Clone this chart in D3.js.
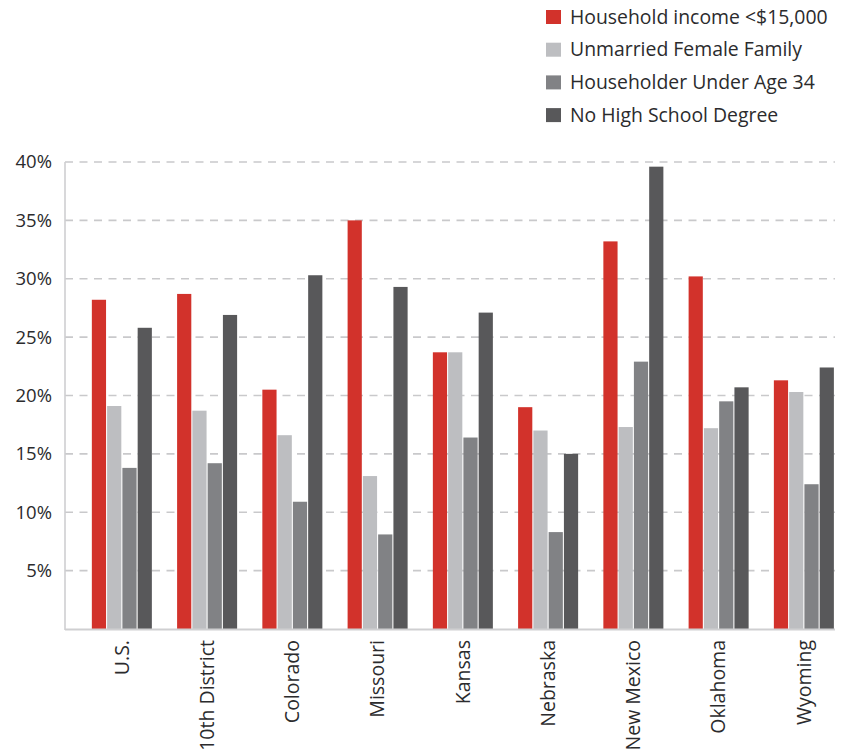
<!DOCTYPE html>
<html>
<head>
<meta charset="utf-8">
<script src="https://cdn.jsdelivr.net/npm/d3@7"></script>
<style>
  html, body { margin: 0; padding: 0; background: #fff; }
  svg text { font-family: "Open Sans", "Noto Sans", sans-serif; fill: #2b2b2d; }
</style>
</head>
<body>
<svg id="chart" width="845" height="750"></svg>
<script>
// Regions along the horizontal axis
const categories = ["U.S.", "10th District", "Colorado", "Missouri", "Kansas",
                    "Nebraska", "New Mexico", "Oklahoma", "Wyoming"];

// Series names (legend order) and their share values, in percent
const seriesNames = ["Household income <$15,000", "Unmarried Female Family",
                     "Householder Under Age 34", "No High School Degree"];
const householdIncome = [28.2, 28.7, 20.5, 35.0, 23.7, 19.0, 33.2, 30.2, 21.3];
const unmarriedFemale = [19.1, 18.7, 16.6, 13.1, 23.7, 17.0, 17.3, 17.2, 20.3];
const underAge34      = [13.8, 14.2, 10.9,  8.1, 16.4,  8.3, 22.9, 19.5, 12.4];
const noHighSchool    = [25.8, 26.9, 30.3, 29.3, 27.1, 15.0, 39.6, 20.7, 22.4];

// Y axis ticks
const yTicks = [5, 10, 15, 20, 25, 30, 35, 40];

const seriesValues = [householdIncome, unmarriedFemale, underAge34, noHighSchool];
const colors = ["#d2322b", "#bdbec1", "#818285", "#58585a"];

const svg = d3.select("#chart");
const plotLeft = 65, plotRight = 835, plotTop = 162, plotBottom = 629;

const x0 = d3.scaleBand().domain(categories).range([plotLeft, plotRight])
  .paddingInner(0.296).paddingOuter(0.164).align(0.96);
const x1 = d3.scaleBand().domain(seriesNames).range([0, x0.bandwidth()])
  .paddingInner(0.07);
const y = d3.scaleLinear().domain([0, 40]).range([plotBottom, plotTop]);
const color = d3.scaleOrdinal().domain(seriesNames).range(colors);

// Dashed gridlines
svg.append("g").selectAll("line").data(yTicks).join("line")
  .attr("x1", plotLeft).attr("x2", plotRight)
  .attr("y1", d => y(d)).attr("y2", d => y(d))
  .attr("stroke", "#c9c9cb").attr("stroke-width", 1.6)
  .attr("stroke-dasharray", "8,6.5");

// Y tick labels
const yAxis = d3.axisLeft(y).tickValues(yTicks).tickSize(0).tickPadding(13)
  .tickFormat(d => d + "%");
const gy = svg.append("g").attr("transform", `translate(${plotLeft},0)`).call(yAxis);
gy.select(".domain").remove();
gy.selectAll("text").style("font-size", "18.5px").attr("fill", "#2b2b2d");

// Bars
const rows = categories.map((c, i) => ({ cat: c, vals: seriesNames.map((s, j) => ({ s, v: seriesValues[j][i] })) }));
svg.append("g").selectAll("g").data(rows).join("g")
  .attr("transform", d => `translate(${x0(d.cat)},0)`)
  .selectAll("rect").data(d => d.vals).join("rect")
  .attr("x", d => x1(d.s))
  .attr("width", x1.bandwidth())
  .attr("y", d => y(d.v))
  .attr("height", d => y(0) - y(d.v))
  .attr("fill", d => color(d.s));

// Axis lines
svg.append("line").attr("x1", plotLeft).attr("x2", plotLeft).attr("y1", plotTop).attr("y2", plotBottom + 1)
  .attr("stroke", "#cfcfd1").attr("stroke-width", 1.6);
svg.append("line").attr("x1", plotLeft).attr("x2", plotRight).attr("y1", plotBottom + 0.5).attr("y2", plotBottom + 0.5)
  .attr("stroke", "#cfcfd1").attr("stroke-width", 2);

// X category labels, rotated
const xAxis = d3.axisBottom(x0).tickSize(0).tickPadding(0);
const gx = svg.append("g").attr("transform", `translate(0,${plotBottom})`).call(xAxis);
gx.select(".domain").remove();
gx.selectAll("text")
  .style("font-size", "19.5px")
  .attr("fill", "#2b2b2d")
  .attr("text-anchor", "end")
  .attr("transform", "rotate(-90)")
  .attr("x", -11)
  .attr("y", 0)
  .attr("dy", "0.35em");

// Legend
const legend = svg.append("g").attr("transform", "translate(546,0)");
const li = legend.selectAll("g").data(seriesNames).join("g")
  .attr("transform", (d, i) => `translate(0,${17 + i * 32.7})`);
li.append("rect").attr("x", 0).attr("y", -7).attr("width", 15).attr("height", 14)
  .attr("fill", d => color(d));
li.append("text").attr("x", 24).attr("y", 0).attr("dy", "0.35em")
  .style("font-size", "19.4px").text(d => d);
</script>
</body>
</html>
